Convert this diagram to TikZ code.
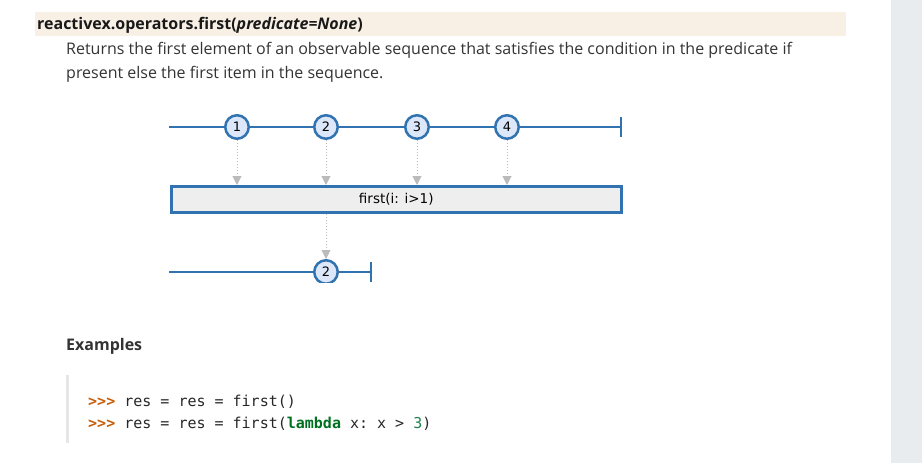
\documentclass[tikz,border=0pt]{standalone}
\usepackage{fontspec}
\setmainfont{Open Sans}
\setmonofont{DejaVu Sans Mono}
\newfontfamily\marblefont{DejaVu Sans}
\usetikzlibrary{arrows.meta,positioning}

\definecolor{headbg}{HTML}{F8F0E5}
\definecolor{sidebg}{HTML}{E9ECEF}
\definecolor{marbleblue}{HTML}{3172B0}
\definecolor{marblefill}{HTML}{DCE7FA}
\definecolor{opfill}{HTML}{EEEEEE}
\definecolor{arrowgray}{HTML}{BBBBBB}
\definecolor{bodytext}{HTML}{333333}
\definecolor{prompt}{HTML}{C65D09}
\definecolor{kwgreen}{HTML}{007020}
\definecolor{numgreen}{HTML}{208050}
\definecolor{codeborder}{HTML}{E6E6E6}

\tikzset{
  marble/.style={circle, draw=marbleblue, line width=2.5pt, fill=marblefill, minimum size=23.5pt, inner sep=0pt, font=\marblefont\fontsize{13}{13}\selectfont},
  timeline/.style={draw=marbleblue, line width=2.5pt},
  emit/.style={draw=arrowgray, dotted, line width=1pt, -{Triangle[width=9pt,length=9pt,fill=arrowgray]}},
  textline/.style={anchor=base west, inner sep=0pt, text=bodytext}
}

\begin{document}
\begin{tikzpicture}[x=1pt, y=-1pt]
  \useasboundingbox (0,0) rectangle (922,463);

  % page parts
  \fill[sidebg] (891,0) rectangle (922,463);
  \fill[headbg] (35,12) rectangle (846,36);
  \fill[codeborder] (66,375) rectangle (69,443);

  % heading and description
  \node[textline, text=black!90, font=\fontsize{16}{16}\selectfont\bfseries] (sig) at (37,30) {reactivex.operators.first(\textit{predicate=None})};
  \node[textline, font=\fontsize{16}{16}\selectfont] (desc-a) at (66,54) {Returns the first element of an observable sequence that satisfies the condition in the predicate if};
  \node[textline, font=\fontsize{16}{16}\selectfont] (desc-b) at (66,78) {present else the first item in the sequence.};

  % source timeline
  \coordinate (src-start) at (169,127);
  \coordinate (src-end) at (621,127);
  \draw[timeline] (src-start) -- (src-end);
  \draw[timeline] ([yshift=-10pt]src-end) -- ([yshift=10pt]src-end);
  \node[marble] (in-1) at (237,127) {1};
  \node[marble] (in-2) at (326,127) {2};
  \node[marble] (in-3) at (417,127) {3};
  \node[marble] (in-4) at (507,127) {4};

  % operator
  \node[draw=marbleblue, line width=2.5pt, fill=opfill, minimum width=450pt, minimum height=26pt, inner sep=0pt, font=\marblefont\fontsize{13.5}{13.5}\selectfont, anchor=north west] (op) at (170,185) {first(i: i>1)};

  \draw[emit] (in-1) -- (in-1 |- op.north);
  \draw[emit] (in-2) -- (in-2 |- op.north);
  \draw[emit] (in-3) -- (in-3 |- op.north);
  \draw[emit] (in-4) -- (in-4 |- op.north);

  % result timeline
  \coordinate (res-start) at (169,272);
  \coordinate (res-end) at (371,272);
  \draw[timeline] (res-start) -- (res-end);
  \draw[timeline] ([yshift=-10pt]res-end) -- ([yshift=10pt]res-end);
  \begin{scope}
    \clip (300,250) rectangle (350,282);
    \node[marble] (out-2) at (326,272) {2};
  \end{scope}
  \draw[emit] (op.south -| out-2) -- (out-2);

  % examples
  \node[textline, font=\fontsize{16}{16}\selectfont\bfseries] (ex) at (66,350) {Examples};
  \node[textline, text=black!85, font=\ttfamily\fontsize{15}{15}\selectfont] (code-a) at (88,406) {\textcolor{prompt}{\bfseries>>>} res = res = first()};
  \node[textline, text=black!85, font=\ttfamily\fontsize{15}{15}\selectfont] (code-b) at (88,428) {\textcolor{prompt}{\bfseries>>>} res = res = first(\textcolor{kwgreen}{\bfseries lambda} x: x > \textcolor{numgreen}{3})};
\end{tikzpicture}
\end{document}
